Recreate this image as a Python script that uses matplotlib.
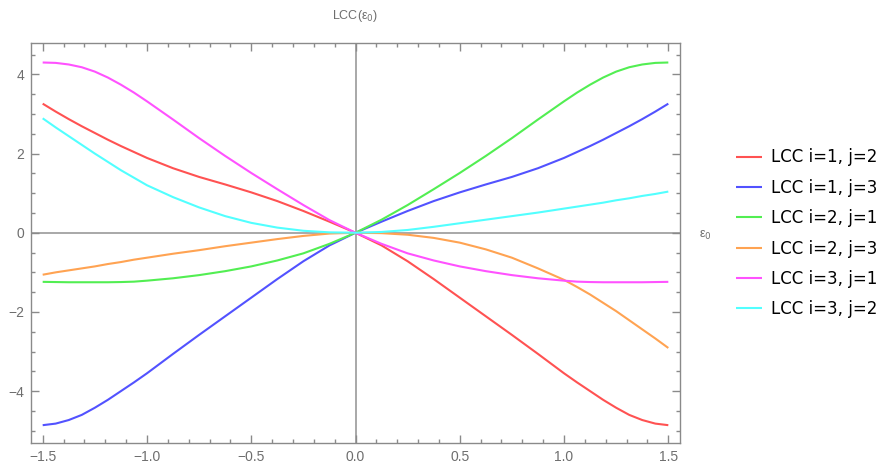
import matplotlib
matplotlib.use("Agg")
import matplotlib.pyplot as plt
from matplotlib.ticker import MultipleLocator, FixedLocator

# ---- data ----
eps0 = [-1.5, -1.4375, -1.375, -1.3125, -1.25, -1.1875, -1.125, -1.0625, -1.0,
        -0.875, -0.75, -0.625, -0.5, -0.375, -0.25, -0.125, 0.0,
        0.125, 0.25, 0.375, 0.5, 0.625, 0.75, 0.875,
        1.0, 1.0625, 1.125, 1.1875, 1.25, 1.3125, 1.375, 1.4375, 1.5]

lcc_i1_j2 = [3.26, 3.06, 2.87, 2.69, 2.52, 2.35, 2.19, 2.04, 1.89,
             1.63, 1.41, 1.22, 1.02, 0.80, 0.55, 0.28, 0.0,
             -0.32, -0.72, -1.17, -1.64, -2.11, -2.58, -3.06,
             -3.55, -3.78, -4.00, -4.22, -4.42, -4.60, -4.73, -4.82, -4.86]
lcc_i1_j3 = [-4.86, -4.82, -4.73, -4.60, -4.42, -4.22, -4.00, -3.78, -3.55,
             -3.06, -2.58, -2.11, -1.64, -1.17, -0.72, -0.32, 0.0,
             0.28, 0.55, 0.80, 1.02, 1.22, 1.41, 1.63,
             1.89, 2.04, 2.19, 2.35, 2.52, 2.69, 2.87, 3.06, 3.26]
lcc_i2_j1 = [-1.24, -1.245, -1.25, -1.25, -1.25, -1.25, -1.245, -1.235, -1.21,
             -1.15, -1.07, -0.97, -0.85, -0.70, -0.52, -0.28, 0.0,
             0.33, 0.70, 1.10, 1.51, 1.94, 2.39, 2.86,
             3.32, 3.54, 3.74, 3.92, 4.07, 4.18, 4.25, 4.29, 4.30]
lcc_i2_j3 = [-1.06, -1.00, -0.95, -0.90, -0.85, -0.79, -0.74, -0.68, -0.63,
             -0.53, -0.44, -0.34, -0.25, -0.16, -0.08, -0.02, 0.0,
             -0.01, -0.05, -0.13, -0.25, -0.42, -0.63, -0.90,
             -1.19, -1.37, -1.56, -1.77, -1.98, -2.21, -2.44, -2.67, -2.91]
lcc_i3_j1 = [4.30, 4.29, 4.25, 4.18, 4.07, 3.92, 3.74, 3.54, 3.32,
             2.86, 2.39, 1.94, 1.51, 1.10, 0.70, 0.32, 0.0,
             -0.28, -0.52, -0.70, -0.85, -0.97, -1.07, -1.15,
             -1.21, -1.235, -1.245, -1.25, -1.25, -1.25, -1.25, -1.245, -1.24]
lcc_i3_j2 = [2.89, 2.66, 2.44, 2.22, 2.00, 1.79, 1.58, 1.39, 1.20,
             0.90, 0.64, 0.42, 0.25, 0.13, 0.05, 0.01, 0.0,
             0.02, 0.07, 0.15, 0.24, 0.33, 0.42, 0.51,
             0.61, 0.66, 0.71, 0.76, 0.82, 0.87, 0.93, 0.98, 1.04]

series_labels = ["LCC i=1, j=2", "LCC i=1, j=3", "LCC i=2, j=1",
                 "LCC i=2, j=3", "LCC i=3, j=1", "LCC i=3, j=2"]
series_values = [lcc_i1_j2, lcc_i1_j3, lcc_i2_j1, lcc_i2_j3, lcc_i3_j1, lcc_i3_j2]
series_colors = ["#ff5252", "#5252ff", "#52ee52", "#ffa352", "#ff52ff", "#52ffff"]

x_ticks = [-1.5, -1.0, -0.5, 0.0, 0.5, 1.0, 1.5]
x_ticklabels = ["\u22121.5", "\u22121.0", "\u22120.5", "0.0", "0.5", "1.0", "1.5"]
y_ticks = [-4, -2, 0, 2, 4]
y_ticklabels = ["\u22124", "\u22122", "0", "2", "4"]

# ---- figure ----
W, H = 886, 470
fig = plt.figure(figsize=(W / 100, H / 100), dpi=100)
ax = fig.add_axes([31 / W, 1 - 443 / H, (680 - 31) / W, (443 - 42.7) / H])

gray = "#8a8a8a"
ax.axhline(0, color="#9a9a9a", lw=1.2, zorder=1)
ax.axvline(0, color="#9a9a9a", lw=1.2, zorder=1)

for vals, lab, col in zip(series_values, series_labels, series_colors):
    ax.plot(eps0, vals, color=col, lw=1.5, label=lab, zorder=3,
            solid_joinstyle="round", solid_capstyle="butt")

ax.set_xlim(-1.556, 1.556)
ax.set_ylim(-5.31, 4.80)

ax.xaxis.set_major_locator(FixedLocator(x_ticks))
ax.set_xticklabels(x_ticklabels)
ax.xaxis.set_minor_locator(MultipleLocator(0.1))
ax.yaxis.set_major_locator(FixedLocator(y_ticks))
ax.set_yticklabels(y_ticklabels)
ax.yaxis.set_minor_locator(MultipleLocator(0.5))

ax.tick_params(which="both", direction="in", top=True, right=True, color=gray, width=1.0)
ax.tick_params(which="major", length=5.5, pad=5, labelsize=10, labelcolor="#6e6e6e")
ax.tick_params(which="minor", length=3)
for lab in ax.get_xticklabels() + ax.get_yticklabels():
    lab.set_family(["Liberation Sans", "DejaVu Sans"])

for sp in ax.spines.values():
    sp.set_color(gray)
    sp.set_linewidth(1.0)

# axes labels (Mathematica AxesLabel style)
ax.annotate("LCC(\u03b5$_0$)", xy=(0, 1), xycoords=("data", "axes fraction"),
            xytext=(0, 19), textcoords="offset points", ha="center", va="center",
            fontsize=9, color="#6e6e6e", family=["Liberation Sans", "DejaVu Sans"])
ax.annotate("\u03b5$_0$", xy=(1, 0), xycoords=("axes fraction", "data"),
            xytext=(14, -2), textcoords="offset points", ha="left", va="center",
            fontsize=9, color="#6e6e6e", family=["Liberation Sans", "DejaVu Sans"])

fig.legend(loc="upper left", bbox_to_anchor=(736 / W, 1 - 148.5 / H),
           frameon=False, handlelength=1.56, handletextpad=0.56,
           labelspacing=0.74, borderpad=0, borderaxespad=0,
           prop={"family": "DejaVu Sans", "size": 12})

fig.savefig("out.png", dpi=100, facecolor="white")
